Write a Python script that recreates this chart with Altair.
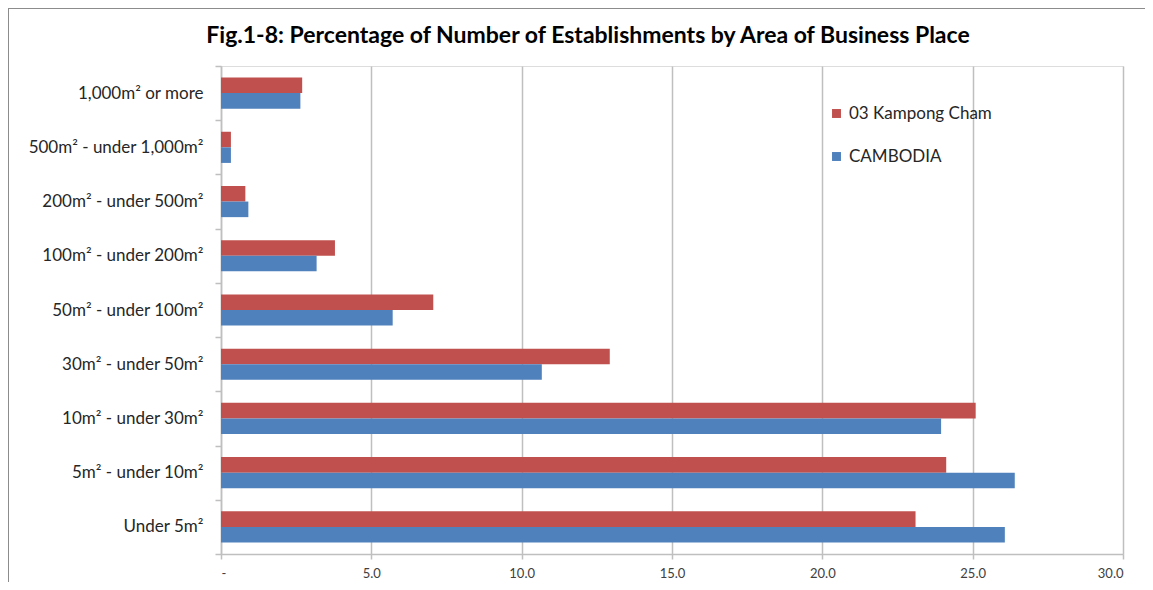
import altair as alt
import pandas as pd

categories = [
    "1,000m² or more",
    "500m² - under 1,000m²",
    "200m² - under 500m²",
    "100m² - under 200m²",
    "50m² - under 100m²",
    "30m² - under 50m²",
    "10m² - under 30m²",
    "5m² - under 10m²",
    "Under 5m²",
]
series = ["03 Kampong Cham", "CAMBODIA"]
kampong_cham = [2.70, 0.33, 0.81, 3.79, 7.06, 12.93, 25.10, 24.12, 23.10]
cambodia = [2.64, 0.33, 0.91, 3.18, 5.71, 10.67, 23.95, 26.40, 26.07]
colors = ["#C0504D", "#4F81BD"]

rows = []
for c, v in zip(categories, kampong_cham):
    rows.append({"area": c, "series": series[0], "value": v})
for c, v in zip(categories, cambodia):
    rows.append({"area": c, "series": series[1], "value": v})
df = pd.DataFrame(rows)

FONT = "Lato"

bars = alt.Chart(df).mark_bar().encode(
    x=alt.X(
        "value:Q",
        scale=alt.Scale(domain=[0, 30], nice=False),
        axis=alt.Axis(
            values=[0, 5, 10, 15, 20, 25, 30],
            title=None,
            labelExpr="datum.value == 0 ? '-' : format(datum.value, '.1f')",
            grid=True,
            gridColor="#bfbfbf",
            gridWidth=1.5,
            domainColor="#bfbfbf",
            domainWidth=1.5,
            tickColor="#bfbfbf",
            tickWidth=1.5,
            tickSize=5,
            labelFont=FONT,
            labelFontSize=13,
            labelColor="#404040",
            labelPadding=8,
        ),
    ),
    y=alt.Y(
        "area:N",
        sort=categories,
        scale=alt.Scale(paddingInner=0, paddingOuter=0),
        axis=alt.Axis(
            title=None,
            tickBand="extent",
            grid=False,
            domainColor="#bfbfbf",
            domainWidth=1.5,
            tickColor="#bfbfbf",
            tickWidth=1.5,
            tickSize=6,
            labelFont=FONT,
            labelFontSize=17,
            labelColor="#262626",
            labelPadding=12,
        ),
    ),
    yOffset=alt.YOffset(
        "series:N",
        sort=series,
        scale=alt.Scale(paddingInner=0, paddingOuter=0.74),
    ),
    color=alt.Color(
        "series:N",
        scale=alt.Scale(domain=series, range=colors),
        legend=alt.Legend(
            title=None,
            orient="none",
            legendX=607,
            legendY=39,
            symbolType="square",
            symbolSize=80,
            symbolStrokeWidth=0,
            labelFont=FONT,
            labelFontSize=17,
            labelColor="#262626",
            rowPadding=25,
            labelOffset=4,
        ),
    ),
)

frame_left = alt.Chart(df).mark_rule(color="#8c8c8c", strokeWidth=2).encode(
    x=alt.value(-213), y=alt.value(-58), y2=alt.value(600)
)
frame_top = alt.Chart(df).mark_rule(color="#8c8c8c", strokeWidth=2).encode(
    x=alt.value(-213), x2=alt.value(960), y=alt.value(-58)
)

chart = alt.layer(bars, frame_left, frame_top).properties(
    width=902,
    height=488,
    title=alt.TitleParams(
        "Fig.1-8: Percentage of Number of Establishments by Area of Business Place",
        font=FONT,
        fontSize=23,
        fontWeight="bold",
        color="#000000",
        anchor="middle",
        frame="group",
        dx=-84,
        offset=-41,
    ),
    autosize=alt.AutoSizeParams(type="none"),
    padding={"left": 213, "top": 58, "right": 22, "bottom": 28},
).configure_view(stroke=None).configure(background="white")

chart.save("out.html", embed_options={"renderer": "svg", "actions": False})
